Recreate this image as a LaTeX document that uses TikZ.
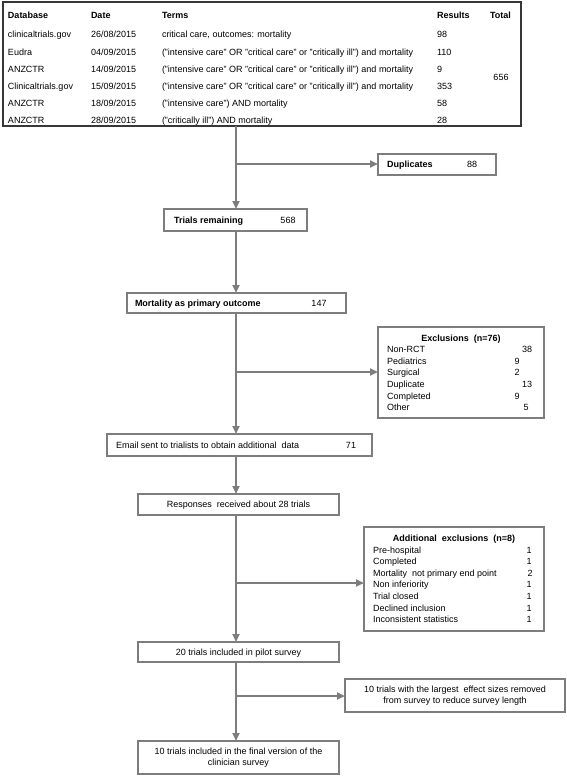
\documentclass[tikz,border=0pt]{standalone}
\usepackage{fontspec}
\setmainfont{Liberation Sans}
\usetikzlibrary{arrows.meta}
\definecolor{linegray}{RGB}{125,125,125}
\definecolor{tablegray}{RGB}{55,55,55}
\begin{document}
\begin{tikzpicture}[x=1pt,y=-1pt,
  every node/.style={inner sep=0pt, outer sep=0pt, font=\fontsize{9}{11.5}\selectfont},
  tx/.style={anchor=west, text height=6.5pt, text depth=0pt},
  cx/.style={anchor=center, text height=6.5pt, text depth=0pt},
  hd/.style={tx, font=\fontsize{9}{11.5}\selectfont\bfseries},
  box/.style={draw=linegray, line width=2.3pt, anchor=north west},
  flow/.style={draw=linegray, line width=2.2pt, -{Triangle[length=8pt,width=7pt]}}
]
\useasboundingbox (0,0) rectangle (567,776);

% ---- table ----
\node[draw=tablegray, line width=1.4pt, anchor=north west, minimum width=518pt, minimum height=124pt] (table) at (3,2) {};
\node[hd] (h1) at (8,15) {Database};
\node[hd] (h2) at (91,15) {Date};
\node[hd] (h3) at (162,15) {Terms};
\node[hd] (h4) at (437,15) {Results};
\node[hd] (h5) at (490,15) {Total};

\node[tx] (r1a) at (8,34) {clinicaltrials.gov};
\node[tx] (r1b) at (91,34) {26/08/2015};
\node[tx] (r1c) at (162,34) {critical care, outcomes: mortality};
\node[tx] (r1d) at (437,34) {98};

\node[tx] (r2a) at (8,52) {Eudra};
\node[tx] (r2b) at (91,52) {04/09/2015};
\node[tx] (r2c) at (162,52) {("intensive care" OR "critical care" or "critically ill") and mortality};
\node[tx] (r2d) at (437,52) {110};

\node[tx] (r3a) at (8,69) {ANZCTR};
\node[tx] (r3b) at (91,69) {14/09/2015};
\node[tx] (r3c) at (162,69) {("intensive care" OR "critical care" or "critically ill") and mortality};
\node[tx] (r3d) at (437,69) {9};

\node[tx] (r4a) at (8,86) {Clinicaltrials.gov};
\node[tx] (r4b) at (91,86) {15/09/2015};
\node[tx] (r4c) at (162,86) {("intensive care" OR "critical care" or "critically ill") and mortality};
\node[tx] (r4d) at (437,86) {353};

\node[tx] (r5a) at (8,103) {ANZCTR};
\node[tx] (r5b) at (91,103) {18/09/2015};
\node[tx] (r5c) at (162,103) {("intensive care") AND mortality};
\node[tx] (r5d) at (437,103) {58};

\node[tx] (r6a) at (8,120) {ANZCTR};
\node[tx] (r6b) at (91,120) {28/09/2015};
\node[tx] (r6c) at (162,120) {("critically ill") AND mortality};
\node[tx] (r6d) at (437,120) {28};

\node[cx] (tot) at (501,77) {656};

% ---- boxes ----
\node[box, minimum width=118pt, minimum height=21pt] (dup) at (378,154) {};
\node[hd] at (387,164.5) {Duplicates};
\node[cx] at (472,164.5) {88};

\node[box, minimum width=143pt, minimum height=22pt] (trials) at (164,209) {};
\node[hd] at (174,220) {Trials remaining};
\node[cx] at (288,220) {568};

\node[box, minimum width=219pt, minimum height=20pt] (mort) at (127,293) {};
\node[hd] at (135,303) {Mortality as primary outcome};
\node[cx] at (319,303) {147};

\node[box, minimum width=166pt, minimum height=91pt] (excl) at (378,327) {};
\node[cx, font=\fontsize{9}{11.5}\selectfont\bfseries] at (461,338) {Exclusions\ \ (n=76)};
\node[tx] at (387,349) {Non-RCT};      \node[cx] at (527,349) {38};
\node[tx] at (387,361) {Pediatrics};   \node[cx] at (517,361) {9};
\node[tx] at (387,372) {Surgical};     \node[cx] at (517,372) {2};
\node[tx] at (387,384) {Duplicate};    \node[cx] at (527,384) {13};
\node[tx] at (387,396) {Completed};    \node[cx] at (517,396) {9};
\node[tx] at (387,407) {Other};        \node[cx] at (526,407) {5};

\node[box, minimum width=265pt, minimum height=22pt] (email) at (107,434) {};
\node[tx] at (116,445) {Email sent to trialists to obtain additional\ \ data};
\node[cx] at (351,445) {71};

\node[box, minimum width=201pt, minimum height=21pt] (resp) at (138,494) {};
\node[cx] at (238.5,504.5) {Responses\ \ received about 28 trials};

\node[box, minimum width=180pt, minimum height=104pt] (addex) at (364,527) {};
\node[cx, font=\fontsize{9}{11.5}\selectfont\bfseries] at (454,538) {Additional\ \ exclusions\ \ (n=8)};
\node[tx] at (373,550) {Pre-hospital};                     \node[cx] at (529,550) {1};
\node[tx] at (373,561) {Completed};                        \node[cx] at (529,561) {1};
\node[tx] at (373,573) {Mortality\ \ not primary end point}; \node[cx] at (530,573) {2};
\node[tx] at (373,584) {Non inferiority};                  \node[cx] at (529,584) {1};
\node[tx] at (373,596) {Trial closed};                     \node[cx] at (529,596) {1};
\node[tx] at (373,608) {Declined inclusion};               \node[cx] at (529,608) {1};
\node[tx] at (373,619) {Inconsistent statistics};          \node[cx] at (529,619) {1};

\node[box, minimum width=201pt, minimum height=20pt] (pilot) at (138,642) {};
\node[cx] at (238.5,652) {20 trials included in pilot survey};

\node[box, minimum width=220pt, minimum height=33pt] (remv) at (345,679) {};
\node[align=center] at (455,695.5) {10 trials with the largest\ \ effect sizes removed\\from survey to reduce survey length};

\node[box, minimum width=201pt, minimum height=33pt] (final) at (138,741) {};
\node[align=center] at (238.5,757.5) {10 trials included in the final version of the\\clinician survey};

% ---- connectors ----
\coordinate (t0) at (236,126);
\coordinate (b1) at (236,164);
\coordinate (b2) at (236,372);
\coordinate (b3) at (236,583);
\coordinate (b4) at (236,696);

\draw[flow] (t0) -- (t0 |- trials.north);
\draw[flow] (b1) -- (b1 -| dup.west);
\draw[flow] (t0 |- trials.south) -- (t0 |- mort.north);
\draw[flow] (t0 |- mort.south) -- (t0 |- email.north);
\draw[flow] (b2) -- (b2 -| excl.west);
\draw[flow] (t0 |- email.south) -- (t0 |- resp.north);
\draw[flow] (t0 |- resp.south) -- (t0 |- pilot.north);
\draw[flow] (b3) -- (b3 -| addex.west);
\draw[flow] (t0 |- pilot.south) -- (t0 |- final.north);
\draw[flow] (b4) -- (b4 -| remv.west);
\end{tikzpicture}
\end{document}
